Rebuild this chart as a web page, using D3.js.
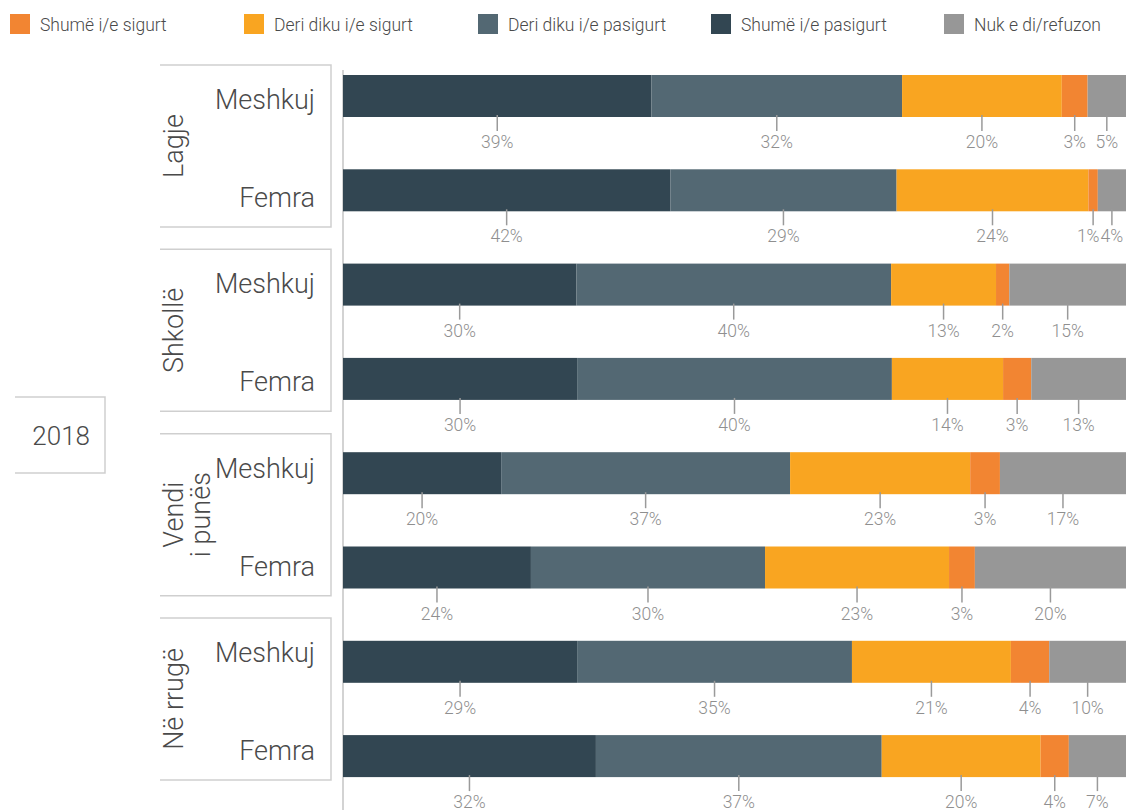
<!DOCTYPE html>
<html>
<head>
<meta charset="utf-8">
<script src="https://cdn.jsdelivr.net/npm/d3@7"></script>
<style>
  html, body { margin: 0; padding: 0; background: #fff; }
  svg { display: block; font-family: Roboto, "Noto Sans", sans-serif; }
</style>
</head>
<body>
<svg id="chart" width="1126" height="810"></svg>
<script>
// ---- data ----
const year = "2018";
const groups = ["Lagje", "Shkollë", "Vendi|i punës", "Në rrugë"];
const genders = ["Meshkuj", "Femra"];
const seriesNames = ["Shumë i/e pasigurt", "Deri diku i/e pasigurt", "Deri diku i/e sigurt", "Shumë i/e sigurt", "Nuk e di/refuzon"];
const legendOrder = ["Shumë i/e sigurt", "Deri diku i/e sigurt", "Deri diku i/e pasigurt", "Shumë i/e pasigurt", "Nuk e di/refuzon"];
// bar lengths (share of the row), rows: Lagje M, Lagje F, Shkollë M, Shkollë F, Vendi M, Vendi F, Rrugë M, Rrugë F
const shumePasigurt = [39.4, 41.8, 29.8, 29.9, 20.2, 24.0, 29.9, 32.3];
const deriPasigurt  = [32.0, 28.9, 40.2, 40.2, 36.9, 29.9, 35.1, 36.5];
const deriSigurt    = [20.4, 24.5, 13.4, 14.2, 23.0, 23.5, 20.3, 20.3];
const shumeSigurt   = [3.3, 1.2, 1.7, 3.6, 3.8, 3.3, 4.9, 3.6];
const nukEDi        = [4.9, 3.6, 14.9, 12.1, 16.1, 19.3, 9.8, 7.3];
// printed percentages
const lblShumePasigurt = [39, 42, 30, 30, 20, 24, 29, 32];
const lblDeriPasigurt  = [32, 29, 40, 40, 37, 30, 35, 37];
const lblDeriSigurt    = [20, 24, 13, 14, 23, 23, 21, 20];
const lblShumeSigurt   = [3, 1, 2, 3, 3, 3, 4, 4];
const lblNukEDi        = [5, 4, 15, 13, 17, 20, 10, 7];

const colors = {
  "Shumë i/e pasigurt": "#324652",
  "Deri diku i/e pasigurt": "#536873",
  "Deri diku i/e sigurt": "#F9A521",
  "Shumë i/e sigurt": "#F28532",
  "Nuk e di/refuzon": "#979797"
};

// ---- build table ----
const valueArrays = [shumePasigurt, deriPasigurt, deriSigurt, shumeSigurt, nukEDi];
const labelArrays = [lblShumePasigurt, lblDeriPasigurt, lblDeriSigurt, lblShumeSigurt, lblNukEDi];
const rows = [];
groups.forEach((g, gi) => genders.forEach((s, si) => {
  const i = gi * 2 + si;
  const r = { id: i, group: g, gender: s };
  seriesNames.forEach((n, k) => { r[n] = valueArrays[k][i]; r["lbl_" + n] = labelArrays[k][i]; });
  rows.push(r);
}));

const svg = d3.select("#chart");
const textColor = "#4a4a4a";
const boxColor = "#cfcfcf";

// ---- scales ----
const x = d3.scaleLinear().domain([0, 100]).range([343, 1126]);
const y = d3.scaleBand().domain(rows.map(d => d.id)).range([75, 777.1]).paddingInner(0.5546).paddingOuter(0);
const yg = d3.scaleBand().domain(groups).range([65, 780]).paddingInner(0.121).paddingOuter(0);

const stack = d3.stack().keys(seriesNames);
const stacked = stack(rows);

// ---- legend ----
const legendX = [10, 244, 478, 711, 944];
const leg = svg.append("g");
legendOrder.forEach((n, i) => {
  const g = leg.append("g").attr("transform", `translate(${legendX[i]},14)`);
  g.append("rect").attr("width", 20).attr("height", 20).attr("fill", colors[n]);
  g.append("text").attr("x", 30).attr("y", 17).attr("font-size", 17.5).attr("font-weight", 300)
    .attr("fill", textColor).text(n);
});

// ---- year box ----
const yb = svg.append("g");
yb.append("path").attr("d", "M15,397H105V473H15").attr("fill", "none").attr("stroke", boxColor).attr("stroke-width", 1.5);
yb.append("text").attr("x", 90).attr("y", 445).attr("text-anchor", "end").attr("font-size", 26)
  .attr("font-weight", 300).attr("fill", textColor).text(year);

// ---- group boxes ----
const gb = svg.append("g");
groups.forEach(g => {
  const t = yg(g), b = t + yg.bandwidth();
  gb.append("path").attr("d", `M160,${t}H331V${b}H160`).attr("fill", "none")
    .attr("stroke", boxColor).attr("stroke-width", 1.5);
  const lines = g.split("|");
  const cy = t + yg.bandwidth() / 2;
  lines.forEach((ln, li) => {
    gb.append("text")
      .attr("transform", `translate(${183 + li * 27},${cy}) rotate(-90)`)
      .attr("text-anchor", "middle").attr("font-size", 27).attr("font-weight", 300)
      .attr("fill", textColor).text(ln);
  });
  genders.forEach((s, si) => {
    gb.append("text").attr("x", 315).attr("y", t + (si === 0 ? 44 : 142))
      .attr("text-anchor", "end").attr("font-size", 27).attr("font-weight", 300)
      .attr("fill", textColor).text(s);
  });
});

// ---- axis line ----
svg.append("line").attr("x1", x(0)).attr("x2", x(0)).attr("y1", 70).attr("y2", 810)
  .attr("stroke", "#c4c4c4").attr("stroke-width", 1.5);

// ---- bars ----
const layers = svg.append("g").selectAll("g").data(stacked).join("g")
  .attr("fill", d => colors[d.key]);
layers.selectAll("rect").data(d => d).join("rect")
  .attr("x", d => x(d[0]))
  .attr("y", d => y(d.data.id))
  .attr("width", d => x(d[1]) - x(d[0]))
  .attr("height", y.bandwidth());

// ---- value labels ----
const lab = svg.append("g");
rows.forEach(row => {
  const items = [];
  stacked.forEach(layer => {
    const d = layer[row.id];
    const cx = (x(d[0]) + x(d[1])) / 2;
    const yb0 = y(row.id) + y.bandwidth();
    lab.append("line").attr("x1", cx).attr("x2", cx).attr("y1", yb0 - 2).attr("y2", yb0 + 14)
      .attr("stroke", "#9a9a9a").attr("stroke-width", 1.5);
    const t = lab.append("text").attr("y", yb0 + 31).attr("text-anchor", "middle")
      .attr("font-size", 17.5).attr("font-weight", 300).attr("fill", "#8f8f8f")
      .text(row["lbl_" + layer.key] + "%");
    const w = t.node().getComputedTextLength();
    items.push({ t, cx: Math.min(cx, 1125 - w / 2), w });
  });
  // simple collision resolution from the right edge leftwards
  for (let i = items.length - 2; i >= 0; i--) {
    const a = items[i], b = items[i + 1];
    const overlap = (a.cx + a.w / 2) - (b.cx - b.w / 2) + 1;
    if (overlap > 0) a.cx -= overlap;
  }
  items.forEach(it => it.t.attr("x", it.cx));
});
</script>
</body>
</html>
